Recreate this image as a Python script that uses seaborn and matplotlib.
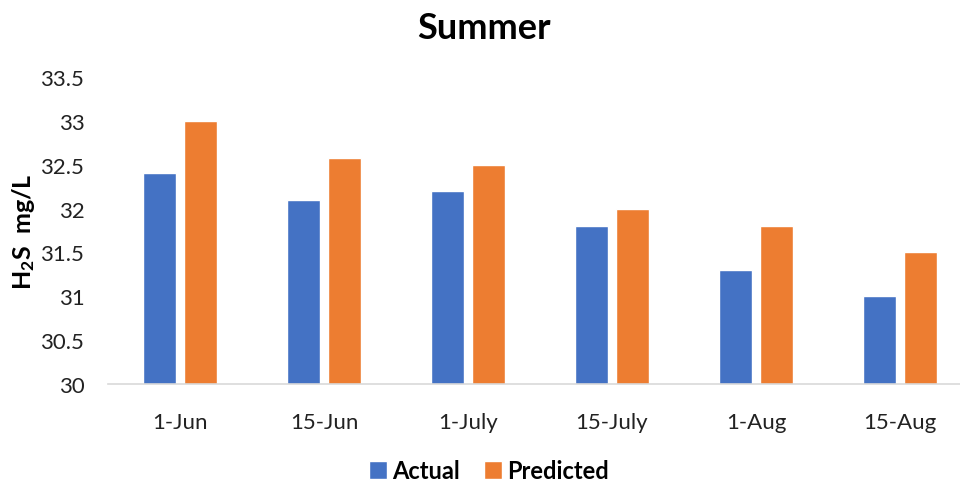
import matplotlib
matplotlib.use("Agg")
import matplotlib.pyplot as plt
import seaborn as sns
import pandas as pd
from matplotlib.ticker import FuncFormatter, MultipleLocator

dates = ["1-Jun", "15-Jun", "1-July", "15-July", "1-Aug", "15-Aug"]
actual = [32.4, 32.1, 32.2, 31.8, 31.3, 31.0]
predicted = [33.0, 32.58, 32.5, 32.0, 31.8, 31.5]
series_names = ["Actual", "Predicted"]
colors = ["#4472C4", "#ED7D31"]

df = pd.DataFrame({
    "date": dates * 2,
    "value": actual + predicted,
    "series": [series_names[0]] * len(dates) + [series_names[1]] * len(dates),
})

sns.set_theme(style="white")
plt.rcParams["font.family"] = ["Lato", "DejaVu Sans"]
plt.rcParams["mathtext.fontset"] = "custom"
plt.rcParams["mathtext.rm"] = "Lato"
plt.rcParams["mathtext.bf"] = "Lato:bold"

fig = plt.figure(figsize=(9.6, 4.85), dpi=100)
ax = fig.add_axes([108 / 960, 100 / 485, 864 / 960, 307 / 485])

sns.barplot(data=df, x="date", y="value", hue="series", order=dates,
            hue_order=series_names, palette=colors, width=0.57, gap=0.19,
            saturation=1, ax=ax, legend=True)

ax.set_ylim(30, 33.5)
ax.set_xlim(-0.5, 5.5)
ax.yaxis.set_major_locator(MultipleLocator(0.5))
ax.yaxis.set_major_formatter(FuncFormatter(lambda v, p: f"{v:g}"))
ax.tick_params(axis="both", length=0, labelsize=16, colors="#222222")
ax.tick_params(axis="y", pad=17)
ax.tick_params(axis="x", pad=20)

for s in ["top", "right", "left"]:
    ax.spines[s].set_visible(False)
ax.spines["bottom"].set_color("#D9D9D9")
ax.spines["bottom"].set_linewidth(1.2)

ax.set_xlabel("")
ax.set_ylabel(r"$\mathbf{H_2S}$  mg/L", fontsize=18, fontweight="bold", color="black")
ax.yaxis.set_label_coords(-0.082, 0.5)

fig.suptitle("Summer", x=0.504, y=0.975, fontsize=26, fontweight="bold", color="black")

handles, labels = ax.get_legend_handles_labels()
ax.legend(handles, labels, loc="center", bbox_to_anchor=((489 - 108) / 864, -0.283),
          ncol=2, frameon=False, handlelength=0.75, handleheight=0.75,
          handletextpad=0.25, columnspacing=1.0,
          prop={"size": 17, "weight": "bold"}, labelcolor="black")

fig.savefig("out.png", dpi=100, facecolor="white")
